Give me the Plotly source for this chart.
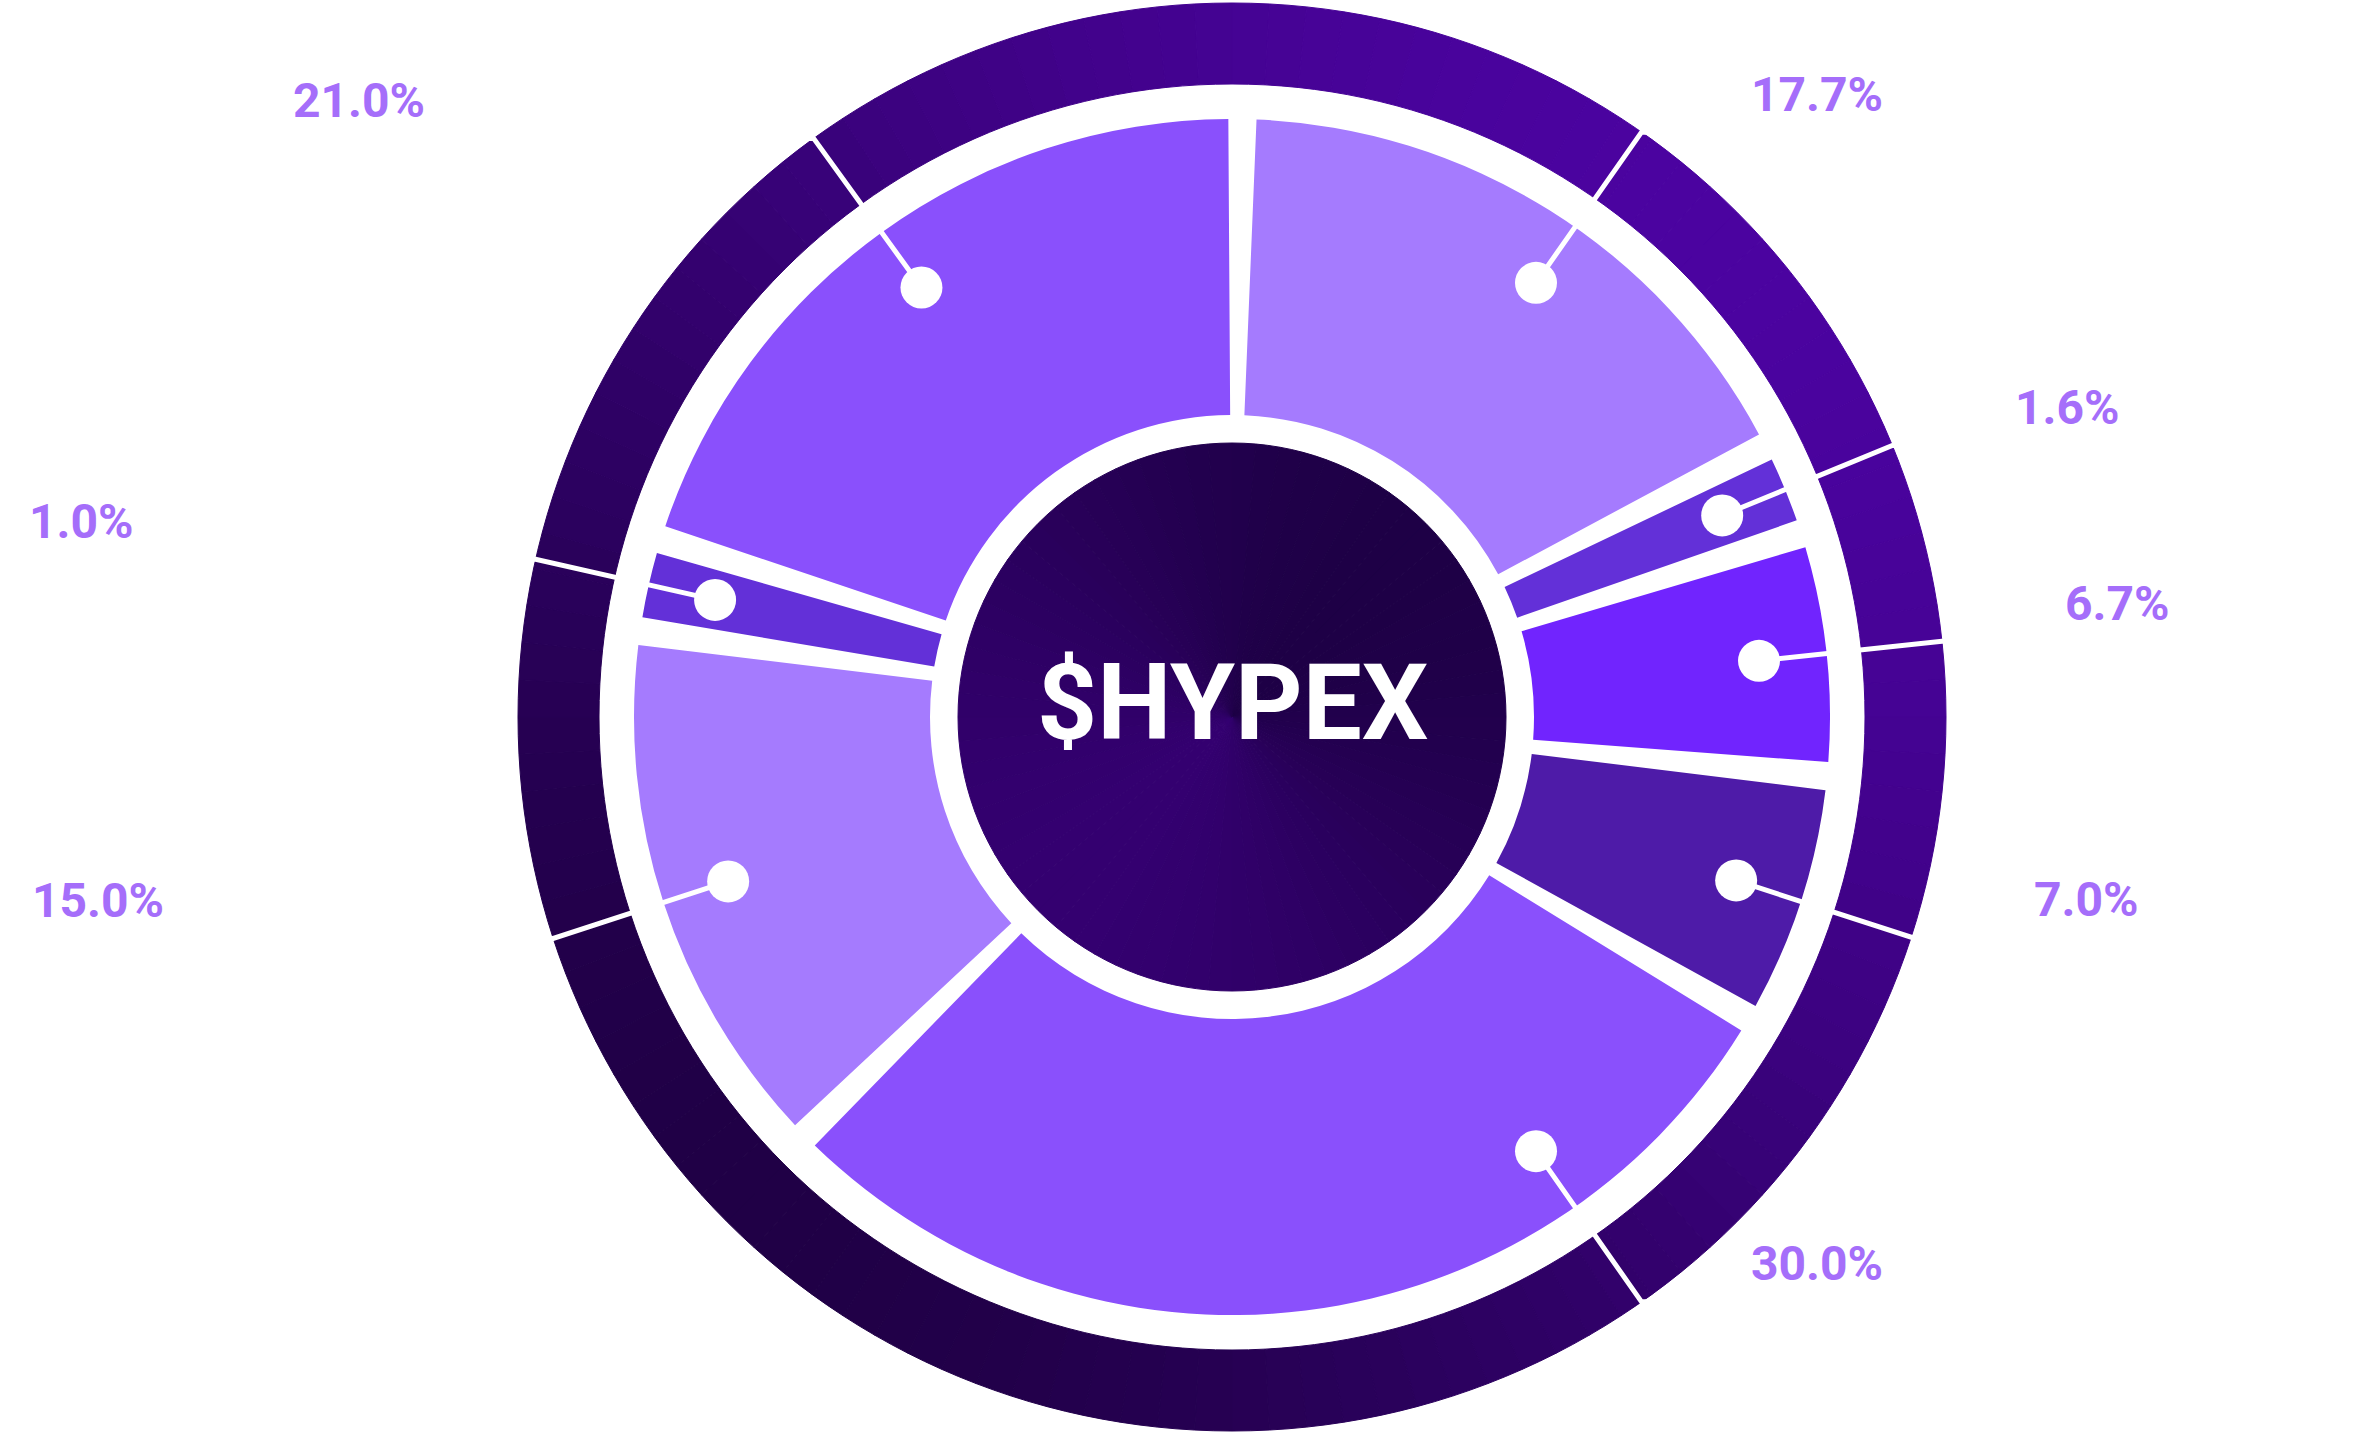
import math
import plotly.graph_objects as go

# ---------------- data ----------------
share_labels = ["17.7%", "1.6%", "6.7%", "7.0%", "30.0%", "15.0%", "1.0%", "21.0%"]
shares = [17.7, 1.6, 6.7, 7.0, 30.0, 15.0, 1.0, 21.0]
slice_colors = ["#A57BFE", "#6330D8", "#7124FE", "#4E1BA8",
                "#8A50FC", "#A57BFE", "#6330D8", "#8A50FC"]
center_title = "$HYPEX"

# ---------------- layout constants (pixels) ----------------
W, H = 2364, 1434
CX, CY = 1232, 717          # centre of the polar plot (px, y down)
R_FULL = 717                # polar radius in px
RING_IN, RING_OUT = 633, 714
SEG_IN, SEG_OUT = 302, 598
DISK_R = 274
DOT_R = 530
MIN_ANGLE = 9.0             # minimum displayed slice angle (deg)
PAD = 2.7                   # angular gap between slices (deg)
START = 1.0                 # start angle (deg, clockwise from north)
STUB = 35
LABEL_DX_RIGHT, LABEL_DX_LEFT, LABEL_DY = 140, -420, -38

LABEL_COLOR = "#A56EFA"


def lerp_color(c1, c2, t):
    t = max(0.0, min(1.0, t))
    return "rgb(%d,%d,%d)" % tuple(round(a + (b - a) * t) for a, b in zip(c1, c2))


def to_xy(r, th):
    a = math.radians(th)
    return CX + r * math.sin(a), CY - r * math.cos(a)


def to_polar(x, y):
    dx, dy = x - CX, CY - y
    return math.hypot(dx, dy), math.degrees(math.atan2(dx, dy)) % 360


# displayed angles (small slices get a minimum angle)
total = sum(shares)
is_small = [v / total * 360 < MIN_ANGLE for v in shares]
big_total = sum(v for v, s in zip(shares, is_small) if not s)
remaining = 360 - MIN_ANGLE * sum(is_small)
angles = [MIN_ANGLE if s else v / big_total * remaining for v, s in zip(shares, is_small)]
mids = []
acc = START
for a in angles:
    mids.append(acc + a / 2)
    acc += a

fig = go.Figure()

# ---- outer ring with diagonal gradient ----
ring_th = [i * 3 + 1.5 for i in range(120)]
c_dark, c_light = (0x20, 0x00, 0x46), (0x4B, 0x03, 0xA0)
ring_cols = []
for th in ring_th:
    a = math.radians(th)
    p = (math.sin(a) + math.cos(a)) / math.sqrt(2)
    ring_cols.append(lerp_color(c_dark, c_light, (p + 1) / 2))
fig.add_trace(go.Barpolar(
    r=[RING_OUT - RING_IN] * len(ring_th), theta=ring_th, width=[3] * len(ring_th),
    base=[RING_IN] * len(ring_th),
    marker=dict(color=ring_cols, line=dict(color=ring_cols, width=1)),
    hoverinfo="skip", showlegend=False))

# ---- data slices ----
fig.add_trace(go.Barpolar(
    r=[SEG_OUT - SEG_IN] * len(shares), theta=mids, width=[a - PAD for a in angles],
    base=[SEG_IN] * len(shares),
    marker=dict(color=slice_colors, line=dict(width=0)),
    text=share_labels, hoverinfo="text", showlegend=False))

# ---- centre disk with gradient ----
disk_th = [i * 5 + 2.5 for i in range(72)]
d_light, d_dark = (0x34, 0x00, 0x70), (0x1E, 0x00, 0x46)
disk_cols = []
for th in disk_th:
    a = math.radians(th)
    p = (math.sin(a) + math.cos(a)) / math.sqrt(2)
    disk_cols.append(lerp_color(d_light, d_dark, (p + 1) / 2))
fig.add_trace(go.Barpolar(
    r=[DISK_R] * len(disk_th), theta=disk_th, width=[5] * len(disk_th),
    base=[0] * len(disk_th),
    marker=dict(color=disk_cols, line=dict(color=disk_cols, width=1)),
    hoverinfo="skip", showlegend=False))

# ---- leader lines, dots, labels ----
line_r, line_t = [], []
dot_t = []
for m, txt in zip(mids, share_labels):
    if m < 180:
        lt = min(max(m, 35), 145)
        side = 1
    else:
        lt = min(max(m, 215), 325)
        side = -1
    dot_t.append(lt)
    ex, ey = to_xy(RING_OUT, lt)
    sx, sy = ex + side * STUB, ey
    sr, st = to_polar(sx, sy)
    line_r += [DOT_R, RING_OUT, sr, None]
    line_t += [lt, lt, st, None]
    lx = sx + (LABEL_DX_RIGHT if side > 0 else LABEL_DX_LEFT)
    ly = sy + LABEL_DY
    fig.add_annotation(
        text=txt, x=lx / W, y=1 - ly / H, xref="paper", yref="paper",
        xanchor="center", yanchor="middle", showarrow=False,
        font=dict(family="Roboto", size=48, color=LABEL_COLOR, weight=700))

fig.add_trace(go.Scatterpolar(
    r=line_r, theta=line_t, mode="lines", connectgaps=False,
    line=dict(color="white", width=5), cliponaxis=False,
    hoverinfo="skip", showlegend=False))
fig.add_trace(go.Scatterpolar(
    r=[DOT_R] * len(dot_t), theta=dot_t, mode="markers",
    marker=dict(color="white", size=42, line=dict(width=0)),
    cliponaxis=False, hoverinfo="skip", showlegend=False))

fig.add_annotation(
    text=center_title, x=CX / W, y=0.5, xref="paper", yref="paper",
    xanchor="center", yanchor="middle", yshift=14, showarrow=False,
    font=dict(family="Roboto", size=105, color="white", weight=700))

fig.update_layout(
    width=W, height=H, margin=dict(l=0, r=0, t=0, b=0),
    paper_bgcolor="white", plot_bgcolor="white", showlegend=False,
    polar=dict(
        domain=dict(x=[(CX - R_FULL) / W, (CX + R_FULL) / W], y=[0, 1]),
        bgcolor="rgba(0,0,0,0)", barmode="overlay", hole=0,
        radialaxis=dict(range=[0, R_FULL], visible=False, showgrid=False,
                        showline=False, showticklabels=False, ticks=""),
        angularaxis=dict(direction="clockwise", rotation=90, visible=False,
                         showgrid=False, showline=False, showticklabels=False,
                         ticks=""),
    ),
)

fig.write_html("out.html")
